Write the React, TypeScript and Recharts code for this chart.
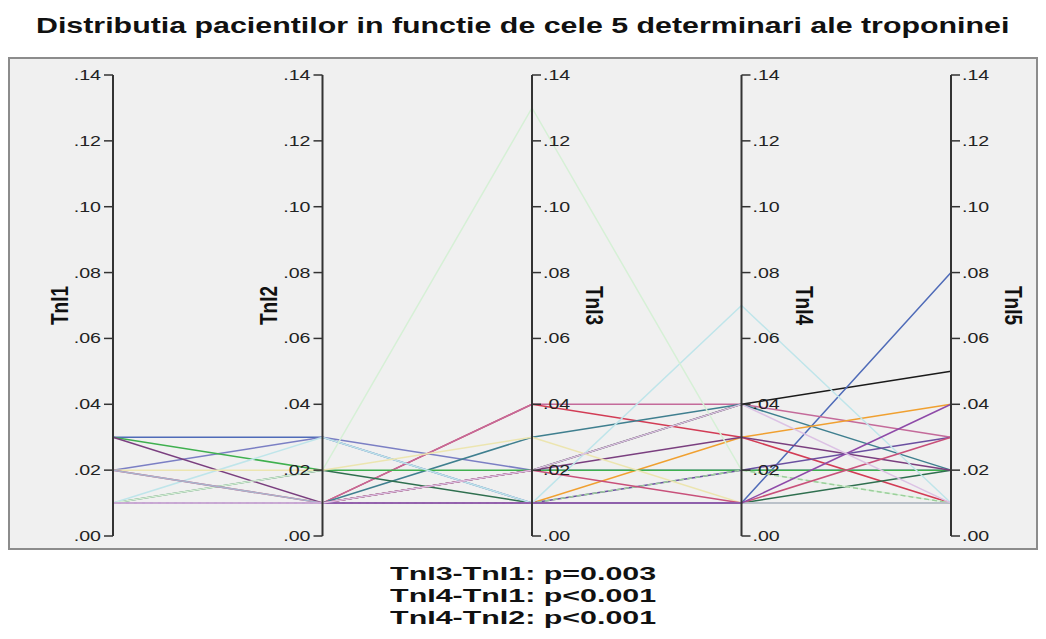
import { LineChart, Line, XAxis, YAxis, ReferenceLine } from "recharts";

const categories: string[] = ["TnI1", "TnI2", "TnI3", "TnI4", "TnI5"];
const yTicks: number[] = [0, 0.02, 0.04, 0.06, 0.08, 0.1, 0.12, 0.14];
const tickLabels: string[] = [".00", ".02", ".04", ".06", ".08", ".10", ".12", ".14"];

// one row per patient, values for TnI1..TnI5
const patientValues: number[][] = [
  [0.01, 0.01, 0.02, 0.04, 0.05],
  [0.03, 0.03, 0.01, 0.01, 0.08],
  [0.02, 0.03, 0.02, 0.02, 0.02],
  [0.01, 0.01, 0.04, 0.03, 0.01],
  [0.01, 0.01, 0.04, 0.04, 0.03],
  [0.01, 0.01, 0.03, 0.04, 0.02],
  [0.01, 0.01, 0.01, 0.03, 0.04],
  [0.03, 0.02, 0.02, 0.02, 0.02],
  [0.01, 0.02, 0.01, 0.01, 0.02],
  [0.03, 0.01, 0.02, 0.03, 0.02],
  [0.01, 0.01, 0.01, 0.02, 0.03],
  [0.01, 0.03, 0.01, 0.07, 0.01],
  [0.01, 0.02, 0.13, 0.02, 0.01],
  [0.01, 0.01, 0.01, 0.02, 0.01],
  [0.02, 0.02, 0.03, 0.01, 0.01],
  [0.02, 0.01, 0.02, 0.01, 0.03],
  [0.02, 0.01, 0.01, 0.01, 0.01],
  [0.01, 0.01, 0.01, 0.01, 0.04],
  [0.01, 0.01, 0.02, 0.04, 0.01],
];

const patientColors: string[] = [
  "#1a1a1a",
  "#4f6bb8",
  "#7b7fc4",
  "#d23c55",
  "#c46a9a",
  "#3f7f8f",
  "#f0a030",
  "#3fb04f",
  "#2f6f4f",
  "#7a3f7f",
  "#6a4fa0",
  "#bfe5ea",
  "#d6f0d6",
  "#9ccf9c",
  "#ece5b0",
  "#c8507a",
  "#a9b4cc",
  "#8e4aa8",
  "#dcc2e4",
];

const dashed: number[] = [13];

const notes: string[] = [
  "TnI3-TnI1: p=0.003",
  "TnI4-TnI1: p<0.001",
  "TnI4-TnI2: p<0.001",
];

const data = categories.map((c, i) => {
  const row: Record<string, string | number> = { name: c };
  patientValues.forEach((p, j) => {
    row["p" + j] = p[i];
  });
  return row;
});

const FONT = '"Liberation Sans", Arial, sans-serif';
const STRETCH = 1.4; // the original image is stretched horizontally

const makeAxisLabel = (index: number) => (props: any) => {
  const vb = props.viewBox || {};
  const x = vb.x;
  const top = vb.y;
  const h = vb.height;
  const left = index < 2;
  const dir = left ? -1 : 1;
  const tx = x + (left ? -52 : 61);
  const ty = top + h / 2;
  return (
    <g>
      {yTicks.map((t, k) => {
        const y = top + h * (1 - t / 0.14);
        return (
          <g key={k}>
            <line x1={x} x2={x + dir * 9} y1={y} y2={y} stroke="#333" strokeWidth={1.5} />
            <text
              transform={`translate(${x + dir * (left ? 12 : 11)} ${y + 5}) scale(${STRETCH} 1)`}
              textAnchor={left ? "end" : "start"}
              fontSize={14}
              fill="#222"
              fontFamily={FONT}
            >
              {tickLabels[k]}
            </text>
          </g>
        );
      })}
      <text
        transform={`translate(${tx} ${ty}) rotate(${left ? -90 : 90}) scale(1 1.3)`}
        textAnchor="middle"
        dominantBaseline="middle"
        fontSize={19}
        fontWeight="bold"
        fill="#111"
        fontFamily={FONT}
      >
        {categories[index]}
      </text>
    </g>
  );
};

export default function App() {
  return (
    <div style={{ position: "relative", width: 1030, height: 623, fontFamily: FONT }}>
      <div
        style={{
          position: "absolute",
          top: 5,
          left: 0,
          width: 1030,
          textAlign: "center",
          fontSize: 22,
          fontWeight: "bold",
          color: "#111",
          whiteSpace: "nowrap",
        }}
      >
        <span style={{ display: "inline-block", transform: `scaleX(1.38)` }}>
          Distributia pacientilor in functie de cele 5 determinari ale troponinei
        </span>
      </div>
      <div
        style={{
          position: "absolute",
          top: 49,
          left: 0,
          width: 1026,
          height: 489,
          border: "2px solid #8c8c8c",
          background: "#f0f0f0",
        }}
      >
        <LineChart
          width={1026}
          height={489}
          data={data}
          margin={{ top: 16, right: 85, bottom: 12, left: 103 }}
        >
          <XAxis dataKey="name" hide padding={{ left: 0, right: 0 }} />
          <YAxis hide domain={[0, 0.14]} ticks={yTicks} type="number" />
          {patientValues.map((_, j) => (
            <Line
              key={j}
              dataKey={"p" + j}
              stroke={patientColors[j]}
              strokeWidth={1.5}
              strokeDasharray={dashed.includes(j) ? "5 3" : undefined}
              dot={false}
              activeDot={false}
              isAnimationActive={false}
            />
          ))}
          {categories.map((c, i) => (
            <ReferenceLine
              key={c}
              x={c}
              stroke="#333"
              strokeWidth={2}
              label={makeAxisLabel(i)}
            />
          ))}
        </LineChart>
      </div>
      <div
        style={{
          position: "absolute",
          top: 555,
          left: 0,
          width: 1030,
          textAlign: "center",
          fontSize: 19,
          fontWeight: "bold",
          lineHeight: "22px",
          color: "#111",
        }}
      >
        {notes.map((n) => (
          <div key={n} style={{ height: 22 }}>
            <span style={{ display: "inline-block", transform: `scaleX(1.6)` }}>{n}</span>
          </div>
        ))}
      </div>
    </div>
  );
}
